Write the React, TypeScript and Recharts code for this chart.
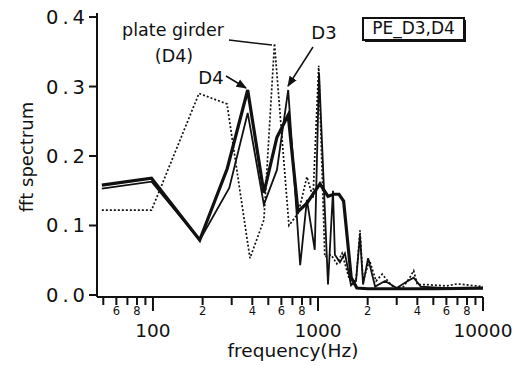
import React from "react";
import { LineChart, Line, XAxis, YAxis } from "recharts";

// --- Data ---

const d4Freq = [49, 98, 192, 282, 375, 470, 564, 660, 757, 857, 1028, 1150, 1250, 1340, 1430, 1590, 1720, 2000, 3000, 5000, 10000];
const d4Val = [0.158, 0.168, 0.079, 0.182, 0.295, 0.147, 0.227, 0.259, 0.12, 0.132, 0.16, 0.142, 0.145, 0.145, 0.135, 0.025, 0.01, 0.009, 0.009, 0.009, 0.01];

const d3Freq = [49, 98, 192, 290, 375, 470, 564, 660, 780, 857, 956, 1015, 1150, 1233, 1266, 1358, 1456, 1586, 1700, 1797, 1876, 2012, 2219, 2548, 3000, 3500, 3800, 4200, 6000, 10000];
const d3Val = [0.153, 0.163, 0.079, 0.154, 0.262, 0.13, 0.18, 0.295, 0.043, 0.137, 0.065, 0.32, 0.015, 0.15, 0.058, 0.047, 0.06, 0.014, 0.02, 0.086, 0.015, 0.053, 0.012, 0.02, 0.01, 0.02, 0.025, 0.012, 0.01, 0.01];

const girderFreq = [49, 98, 190, 281, 387, 470, 545, 667, 760, 857, 933, 1010, 1100, 1200, 1300, 1400, 1550, 1700, 1797, 1876, 2050, 2250, 2450, 2650, 2900, 3300, 3600, 3800, 4000, 4500, 6000, 7000, 10000];
const girderVal = [0.122, 0.122, 0.29, 0.275, 0.053, 0.108, 0.362, 0.1, 0.118, 0.17, 0.14, 0.33, 0.055, 0.058, 0.045, 0.06, 0.022, 0.02, 0.093, 0.02, 0.05, 0.02, 0.03, 0.02, 0.01, 0.012, 0.025, 0.035, 0.015, 0.015, 0.013, 0.016, 0.012];

const yTicks = [0, 0.1, 0.2, 0.3, 0.4];
const xTicks = [50, 60, 70, 80, 90, 100, 200, 300, 400, 500, 600, 700, 800, 900, 1000, 2000, 3000, 4000, 5000, 6000, 7000, 8000, 9000, 10000];
const majorLabels: Record<number, string> = { 100: "100", 1000: "1000", 10000: "10000" };
const minorLabels: Record<number, string> = {
  60: "6", 80: "8", 200: "2", 400: "4", 600: "6", 800: "8",
  2000: "2", 4000: "4", 6000: "6", 8000: "8",
};

const toRows = (f: number[], v: number[]) => f.map((x, i) => ({ f: x, v: v[i] }));
const d4 = toRows(d4Freq, d4Val);
const d3 = toRows(d3Freq, d3Val);
const girder = toRows(girderFreq, girderVal);

const FONT = "DejaVu Sans, sans-serif";
const INK = "#111";

function XTick({ x, y, payload }: any) {
  const v = payload.value;
  const major = majorLabels[v];
  const minor = minorLabels[v];
  const len = major ? 14 : 8;
  return (
    <g>
      <line x1={x} x2={x} y1={y} y2={y + len} stroke={INK} strokeWidth={2} />
      {major && (
        <text x={x} y={y + 40} textAnchor="middle" fontSize={18.5} fontFamily={FONT} fill={INK}>
          {major}
        </text>
      )}
      {minor && (
        <text x={x} y={y + 18} textAnchor="middle" fontSize={11.5} fontFamily={FONT} fill={INK}>
          {minor}
        </text>
      )}
    </g>
  );
}

function YTick({ x, y, payload }: any) {
  return (
    <g>
      <line x1={x - 8} x2={x} y1={y} y2={y} stroke={INK} strokeWidth={2} />
      <text
        x={x - 8}
        y={y + 7}
        textAnchor="end"
        fontSize={19.5}
        letterSpacing={4}
        fontFamily={FONT}
        fill={INK}
      >
        {payload.value.toFixed(1)}
      </text>
    </g>
  );
}

const xDomain = [45.8, 10000];
const yDomain = [-0.0029, 0.4058];

export default function App() {
  return (
    <div style={{ position: "absolute", left: 0, top: 0, width: 523, height: 365, background: "#fff" }}>
      <LineChart width={523} height={365} margin={{ top: 13, right: 40, bottom: 0, left: 0 }}>
        <XAxis
          dataKey="f"
          type="number"
          scale="log"
          domain={xDomain}
          allowDataOverflow
          ticks={xTicks}
          interval={0}
          tickSize={0}
          tickMargin={0}
          tick={<XTick />}
          axisLine={{ stroke: INK, strokeWidth: 2 }}
          height={68}
        />
        <XAxis
          xAxisId="top"
          orientation="top"
          type="number"
          scale="log"
          domain={xDomain}
          allowDataOverflow
          tick={false}
          tickLine={false}
          height={0}
          axisLine={{ stroke: INK, strokeWidth: 2 }}
        />
        <YAxis
          type="number"
          domain={yDomain}
          allowDataOverflow
          ticks={yTicks}
          interval={0}
          tickSize={0}
          tickMargin={0}
          tick={<YTick />}
          axisLine={{ stroke: INK, strokeWidth: 2 }}
          width={97}
        />
        <YAxis
          yAxisId="right"
          orientation="right"
          type="number"
          domain={yDomain}
          tick={false}
          tickLine={false}
          width={0}
          axisLine={{ stroke: INK, strokeWidth: 2 }}
        />
        <Line
          data={girder}
          dataKey="v"
          stroke={INK}
          strokeWidth={1.7}
          strokeDasharray="2 2"
          dot={false}
          activeDot={false}
          isAnimationActive={false}
          type="linear"
        />
        <Line
          data={d3}
          dataKey="v"
          stroke={INK}
          strokeWidth={1.8}
          dot={false}
          activeDot={false}
          isAnimationActive={false}
          type="linear"
        />
        <Line
          data={d4}
          dataKey="v"
          stroke={INK}
          strokeWidth={3.2}
          dot={false}
          activeDot={false}
          isAnimationActive={false}
          type="linear"
        />
      </LineChart>

      {/* labels, annotations and legend box */}
      <svg
        width={523}
        height={365}
        style={{ position: "absolute", left: 0, top: 0, pointerEvents: "none" }}
        fontFamily={FONT}
        fill={INK}
      >
        <defs>
          <marker id="arrow" viewBox="0 0 10 10" refX="9" refY="5" markerWidth="7" markerHeight="7" orient="auto">
            <path d="M0,1 L10,5 L0,9 z" fill={INK} />
          </marker>
        </defs>
        <text x={26} y={157} fontSize={18} textAnchor="middle" transform="rotate(-90 26 157)" dominantBaseline="central">
          fft spectrum
        </text>
        <text x={293} y={357} fontSize={18.5} textAnchor="middle">
          frequency(Hz)
        </text>

        <text x={173} y={36} fontSize={17.5} textAnchor="middle">plate girder</text>
        <text x={174} y={62} fontSize={17.5} textAnchor="middle">(D4)</text>
        <line x1={229} y1={40} x2={272} y2={45} stroke={INK} strokeWidth={1.5} />

        <text x={211} y={84} fontSize={18} textAnchor="middle">D4</text>
        <line x1={226} y1={76} x2={246} y2={88} stroke={INK} strokeWidth={1.5} markerEnd="url(#arrow)" />

        <text x={324} y={39} fontSize={18} textAnchor="middle">D3</text>
        <line x1={313} y1={47} x2={288} y2={86} stroke={INK} strokeWidth={1.5} markerEnd="url(#arrow)" />

        <rect x={365} y={20} width={101} height={22} fill={INK} />
        <rect x={363} y={18} width={101} height={22} fill="#fff" stroke={INK} strokeWidth={2} />
        <text x={413.5} y={34} fontSize={17} textAnchor="middle">PE_D3,D4</text>
      </svg>
    </div>
  );
}
